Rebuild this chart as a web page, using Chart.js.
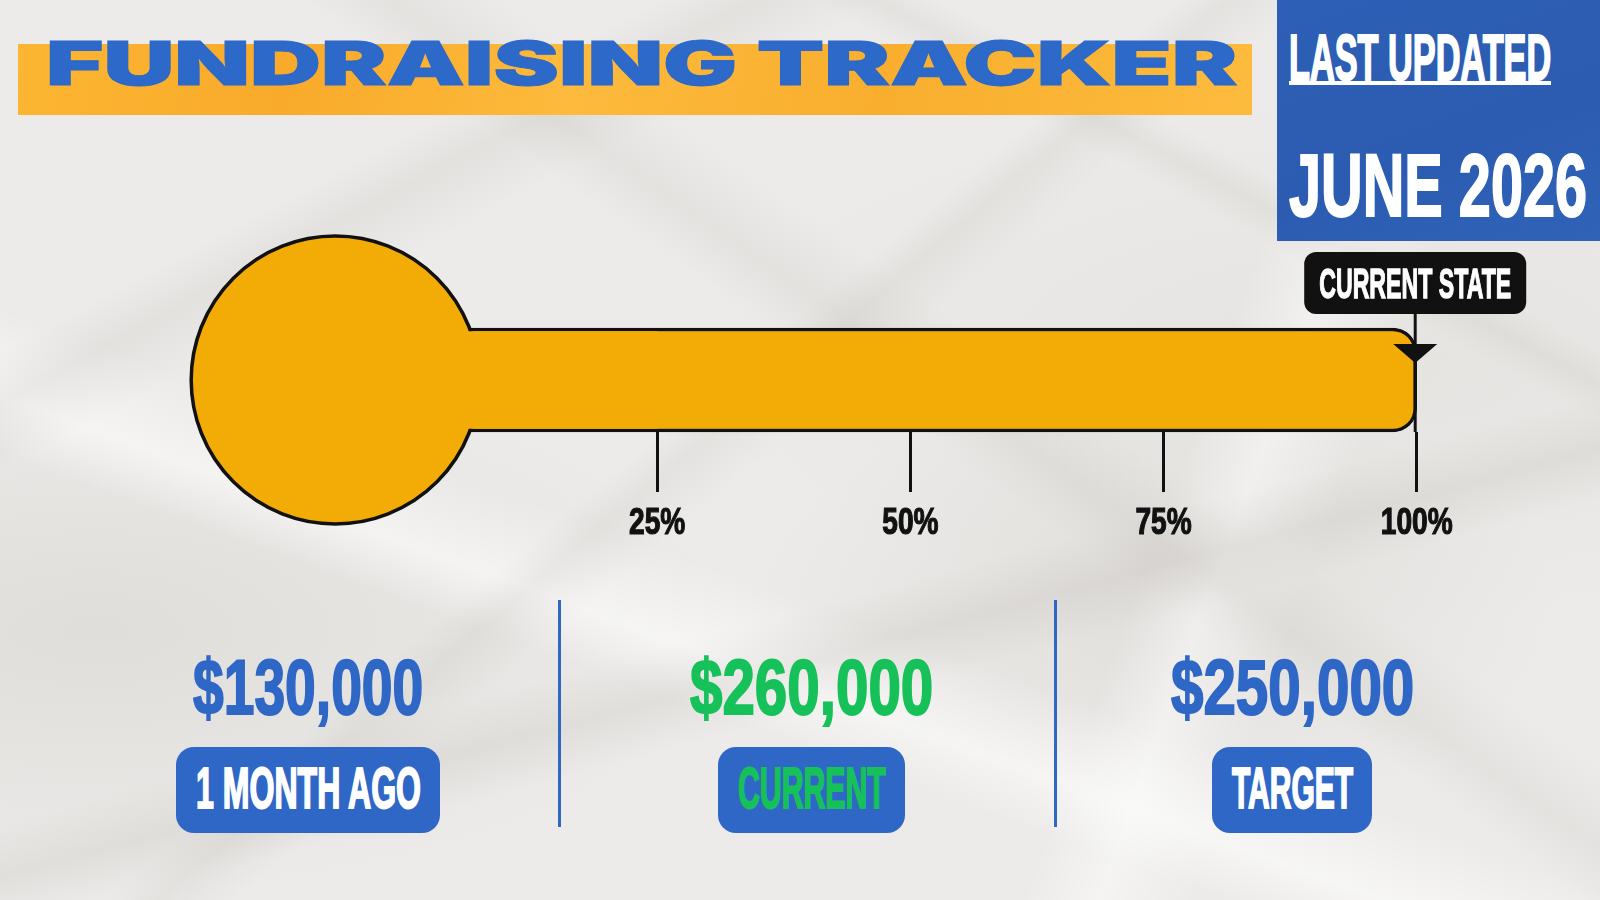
<!DOCTYPE html>
<html>
<head>
<meta charset="utf-8">
<script src="https://cdn.jsdelivr.net/npm/chart.js@4.4.1/dist/chart.umd.min.js"></script>
<style>
html, body { margin: 0; padding: 0; }
body {
    width: 1600px; height: 900px; position: relative; overflow: hidden;
    background-color: #ecebe9;
    background-image:
        linear-gradient(152deg, transparent 20%, rgba(120,110,100,0.08) 23%, transparent 27%),
        linear-gradient(35deg, transparent 55%, rgba(120,110,100,0.07) 58%, transparent 62%),
        linear-gradient(165deg, transparent 62%, rgba(120,110,100,0.09) 66%, transparent 70%),
        linear-gradient(140deg, transparent 44%, rgba(120,110,100,0.07) 46%, transparent 49%),
        linear-gradient(28deg, transparent 76%, rgba(120,110,100,0.07) 78%, transparent 80%),
        linear-gradient(20deg, transparent 30%, rgba(255,255,255,0.55) 34%, transparent 40%),
        linear-gradient(110deg, transparent 70%, rgba(255,255,255,0.45) 74%, transparent 79%),
        radial-gradient(ellipse at 6% 70%, rgba(150,140,130,0.14), transparent 30%),
        radial-gradient(ellipse at 72% 68%, rgba(150,140,130,0.12), transparent 25%),
        radial-gradient(ellipse at 85% 40%, rgba(150,140,130,0.08), transparent 35%);
    font-family: "Liberation Sans Narrow", "Liberation Sans", Arial, sans-serif;
}
.abs { position: absolute; }
.txt { position: absolute; display: inline-block; white-space: nowrap; line-height: 1;
       font-weight: bold; transform-origin: 0 0; -webkit-text-stroke: 2px currentColor; }
#banner { left: 18px; top: 44px; width: 1234px; height: 71px;
          background: linear-gradient(100deg, #fcb632 0%, #f9aa2a 22%, #fdba3c 45%, #f9ae2e 70%, #fdbb3d 100%); }
#title { font-family: Inter, "DejaVu Sans", sans-serif; font-weight: 900; color: #2c69c8;
         -webkit-text-stroke: 1px #2c69c8; }
#dateBox { left: 1277px; top: 0; width: 323px; height: 241px;
           background: linear-gradient(160deg, #2d5fb6, #2b5cb1 60%, #3063b8); }
#underline { left: 1289px; top: 81px; width: 262px; height: 4px; background: #ffffff; }
.sep { width: 3px; top: 600px; height: 227px; background: #2f67c6; }
.pill { top: 747px; height: 86px; border-radius: 18px; background: #2f67c6; }
#chartBox { left: 0; top: 0; width: 1600px; height: 600px; }
</style>
</head>
<body>
<div id="banner" class="abs"></div>
<div id="title" class="txt">FUNDRAISING TRACKER</div>
<div id="dateBox" class="abs"></div>
<div id="lastUpd" class="txt" style="color:#fff">LAST UPDATED</div>
<div id="underline" class="abs"></div>
<div id="month" class="txt" style="color:#fff">JUNE 2026</div>

<div id="chartBox" class="abs"><canvas id="thermo"></canvas></div>

<div id="stats"></div>

<script>
// ---- data ----
const categories = ['1 MONTH AGO', 'CURRENT', 'TARGET'];
const amounts = [130000, 260000, 250000];
const tickPcts = [25, 50, 75, 100];
const tickLabels = ['25%', '50%', '75%', '100%'];
const calloutLabel = 'CURRENT STATE';

const fillPct = Math.min(100, amounts[1] / amounts[2] * 100);

// ---- styles ----
const orange = '#f3ab05';
const ink = '#111111';
const blue = '#2f67c6';
const green = '#17c15a';
const narrow = '"Liberation Sans Narrow", "Liberation Sans", Arial, sans-serif';
const BULB_PCT = -6.8;   // bulb centre on the percent axis
const BULB_R = 144;

// place a text box by its cap top and stretch it to a width
function placeText(el, o) {
    el.style.fontSize = o.size + 'px';
    const w = el.offsetWidth;
    el.style.transform = 'scaleX(' + (o.width / w) + ')';
    el.style.left = (o.cx !== undefined ? o.cx - o.width / 2 : o.left) + 'px';
    el.style.top = (o.capTop - (o.capOff || 0.1305) * o.size) + 'px';
}

placeText(document.getElementById('title'), {left: 46, capTop: 41, width: 1191, size: 60, capOff: 0.1365});
placeText(document.getElementById('lastUpd'), {left: 1289, capTop: 34, width: 262, size: 64});
placeText(document.getElementById('month'), {left: 1289, capTop: 153, width: 298, size: 89});

// ---- bottom stats ----
const stats = document.getElementById('stats');
const statCx = [308, 811, 1292];
const valueW = [230, 243, 243];
const pillL = [176, 718, 1212];
const pillW = [264, 187, 160];
const labelW = [225, 148, 121];
const valueColors = [blue, green, blue];
const labelColors = ['#ffffff', green, '#ffffff'];
[559, 1055].forEach(function (x) {
    const s = document.createElement('div');
    s.className = 'abs sep';
    s.style.left = (x - 1.5) + 'px';
    stats.appendChild(s);
});
categories.forEach(function (cat, i) {
    const v = document.createElement('div');
    v.className = 'txt';
    v.style.color = valueColors[i];
    v.textContent = '$' + amounts[i].toLocaleString('en-US');
    stats.appendChild(v);
    placeText(v, {cx: statCx[i], capTop: 658, width: valueW[i], size: 78});

    const p = document.createElement('div');
    p.className = 'abs pill';
    p.style.left = pillL[i] + 'px';
    p.style.width = pillW[i] + 'px';
    stats.appendChild(p);

    const t = document.createElement('div');
    t.className = 'txt';
    t.style.color = labelColors[i];
    t.textContent = cat;
    stats.appendChild(t);
    placeText(t, {cx: pillL[i] + pillW[i] / 2, capTop: 767, width: labelW[i], size: 57});
});

// ---- callout pointing at the end of the fill, condensed tick labels ----
const calloutPlugin = {
    id: 'callout',
    afterDatasetsDraw(chart) {
        const ctx = chart.ctx;
        const area = chart.chartArea;
        const x = chart.scales.x;
        const xp = x.getPixelForValue(fillPct) - 1.5;
        ctx.save();
        ctx.fillStyle = ink;
        ctx.strokeStyle = ink;
        const bw = 222, bh = 62, by = area.top - 76;
        ctx.beginPath();
        ctx.roundRect(xp - bw / 2, by, bw, bh, 12);
        ctx.fill();
        ctx.lineWidth = 3;
        ctx.beginPath();
        ctx.moveTo(xp, by + bh);
        ctx.lineTo(xp, area.bottom);
        ctx.stroke();
        ctx.beginPath();
        ctx.moveTo(xp - 22, area.top + 16);
        ctx.lineTo(xp + 22, area.top + 16);
        ctx.lineTo(xp, area.top + 35);
        ctx.closePath();
        ctx.fill();

        ctx.font = 'bold 43px ' + narrow;
        ctx.lineWidth = 1.4;
        ctx.textAlign = 'center';
        ctx.textBaseline = 'alphabetic';
        const tw = ctx.measureText(calloutLabel).width;
        ctx.save();
        ctx.translate(xp, by + 46);
        ctx.scale(192 / tw, 1);
        ctx.fillStyle = '#ffffff';
        ctx.strokeStyle = '#ffffff';
        ctx.fillText(calloutLabel, 0, 0);
        ctx.strokeText(calloutLabel, 0, 0);
        ctx.restore();

        // tick labels, condensed
        ctx.font = 'bold 37px ' + narrow;
        ctx.fillStyle = ink;
        ctx.strokeStyle = ink;
        ctx.lineWidth = 1.2;
        x.ticks.forEach(function (t, i) {
            ctx.save();
            ctx.translate(x.getPixelForValue(t.value), area.bottom + 102);
            ctx.scale(0.76, 1);
            ctx.fillText(tickLabels[i], 0, 0);
            ctx.strokeText(tickLabels[i], 0, 0);
            ctx.restore();
        });
        ctx.restore();
    }
};

const H = 600;
const chart = new Chart(document.getElementById('thermo'), {
    type: 'bar',
    data: {
        labels: ['Raised'],
        datasets: [
            {
                type: 'bar',
                data: [[BULB_PCT, fillPct]],
                backgroundColor: orange,
                borderColor: ink,
                borderWidth: 3.5,
                borderSkipped: 'start',
                borderRadius: 24,
                barThickness: 104,
                grouped: false,
                clip: false,
                order: 3
            },
            {
                type: 'bubble',
                data: [{x: BULB_PCT, y: 'Raised', r: BULB_R}],
                backgroundColor: orange,
                borderColor: ink,
                borderWidth: 3.5,
                clip: false,
                order: 2
            },
            {
                type: 'bar',
                data: [[BULB_PCT, tickPcts[0]]],
                backgroundColor: orange,
                borderWidth: 0,
                barThickness: 97,
                grouped: false,
                clip: false,
                order: 1
            }
        ]
    },
    options: {
        indexAxis: 'y',
        responsive: true,
        maintainAspectRatio: false,
        animation: false,
        events: [],
        layout: {autoPadding: false, padding: {top: 328, bottom: 0, left: 0, right: 0}},
        plugins: {legend: {display: false}, tooltip: {enabled: false}},
        scales: {
            x: {
                type: 'linear',
                min: -39.9,
                max: 118.1,
                afterBuildTicks: (scale) => { scale.ticks = tickPcts.map((v) => ({value: v})); },
                ticks: {display: false},
                grid: {drawOnChartArea: false, drawTicks: true, tickLength: 60, color: ink, lineWidth: 3},
                border: {display: false}
            },
            y: {type: 'category', display: false}
        }
    },
    plugins: [calloutPlugin]
});

// line the axis up with the bottom of the tube
const axisH = H - chart.chartArea.bottom;
chart.options.layout.padding.bottom = H - axisH - 432;
chart.update();
</script>
</body>
</html>
